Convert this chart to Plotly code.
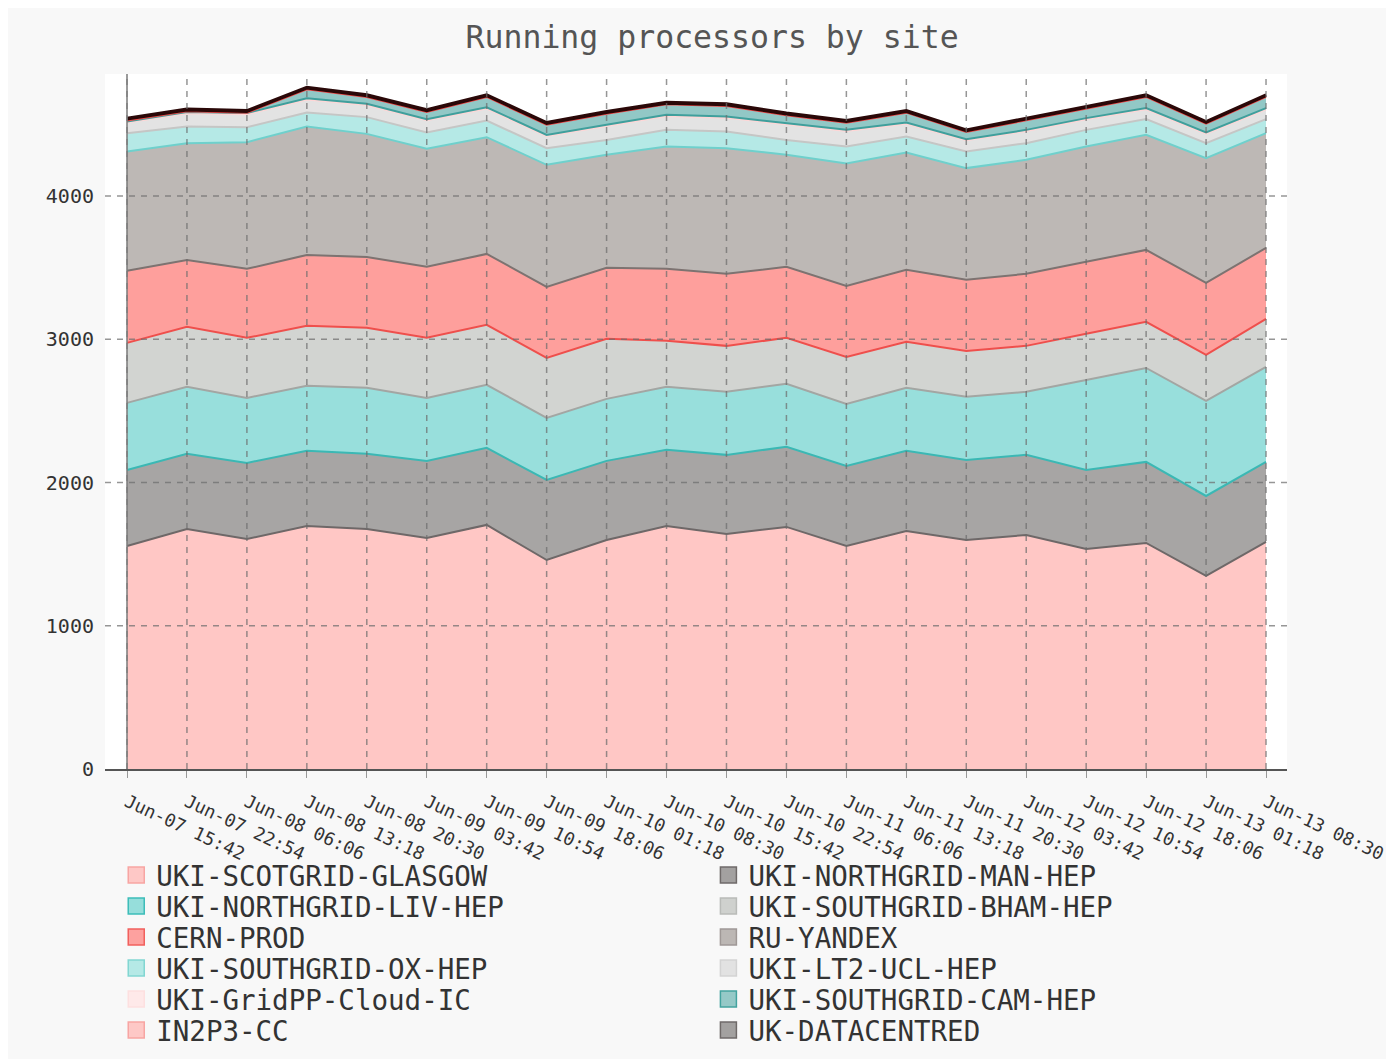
import plotly.graph_objects as go

# ---------------- data ----------------
x_labels = ["Jun-07 15:42", "Jun-07 22:54", "Jun-08 06:06", "Jun-08 13:18", "Jun-08 20:30",
            "Jun-09 03:42", "Jun-09 10:54", "Jun-09 18:06", "Jun-10 01:18", "Jun-10 08:30",
            "Jun-10 15:42", "Jun-10 22:54", "Jun-11 06:06", "Jun-11 13:18", "Jun-11 20:30",
            "Jun-12 03:42", "Jun-12 10:54", "Jun-12 18:06", "Jun-13 01:18", "Jun-13 08:30"]

glasgow = [1557, 1676, 1606, 1697, 1676, 1613, 1704, 1459, 1599, 1697, 1641, 1690, 1557, 1662, 1599, 1634, 1536, 1578, 1348, 1585]
man_hep = [531, 524, 531, 524, 524, 538, 538, 559, 552, 531, 552, 559, 559, 559, 559, 559, 552, 566, 558, 559]
liv_hep = [468, 468, 454, 454, 461, 440, 440, 433, 433, 440, 440, 440, 433, 440, 440, 440, 628, 656, 664, 663]
bham_hep = [419, 419, 419, 419, 419, 419, 419, 419, 419, 321, 321, 321, 328, 321, 321, 321, 322, 322, 321, 335]
cern_prod = [503, 467, 482, 495, 495, 496, 495, 496, 496, 503, 503, 496, 496, 503, 496, 503, 503, 502, 503, 496]
ru_yandex = [833, 815, 884, 896, 859, 824, 815, 852, 789, 854, 877, 782, 855, 819, 780, 796, 805, 803, 871, 801]
ox_hep = [128, 116, 105, 98, 117, 114, 116, 116, 104, 116, 117, 104, 118, 112, 116, 116, 116, 110, 104, 98]
ucl_hep = [74, 93, 90, 91, 85, 85, 84, 85, 97, 96, 96, 109, 108, 88, 78, 85, 74, 68, 67, 68]
cloud_ic = [7, 8, 8, 9, 8, 8, 9, 8, 8, 9, 8, 8, 8, 9, 8, 8, 8, 9, 8, 9]
cam_hep = [8, 6, 3, 62, 48, 50, 72, 71, 78, 73, 74, 55, 50, 69, 50, 67, 71, 78, 61, 78]
in2p3_cc = [6, 5, 5, 5, 5, 5, 5, 5, 5, 5, 5, 5, 5, 5, 5, 5, 5, 5, 5, 5]
datacentred = [10, 10, 10, 10, 10, 10, 10, 10, 10, 10, 10, 10, 10, 10, 10, 10, 10, 10, 10, 10]

names = ["UKI-SCOTGRID-GLASGOW", "UKI-NORTHGRID-MAN-HEP", "UKI-NORTHGRID-LIV-HEP",
         "UKI-SOUTHGRID-BHAM-HEP", "CERN-PROD", "RU-YANDEX", "UKI-SOUTHGRID-OX-HEP",
         "UKI-LT2-UCL-HEP", "UKI-GridPP-Cloud-IC", "UKI-SOUTHGRID-CAM-HEP", "IN2P3-CC",
         "UK-DATACENTRED"]
values = [glasgow, man_hep, liv_hep, bham_hep, cern_prod, ru_yandex, ox_hep, ucl_hep,
          cloud_ic, cam_hep, in2p3_cc, datacentred]

y_ticks = [0, 1000, 2000, 3000, 4000]

# ---------------- styles ----------------
area_fill = ["#ffc7c5", "#a7a5a4", "#98dfdc", "#d2d4d1", "#fe9f9c", "#bdb8b5",
             "#b5e9e6", "#e3e3e3", "#fde8e8", "#92c8c6", "#fec8c6", "#a3a1a0"]
stroke = ["#f7a5a3", "#6e6868", "#3bb8b4", "#a3a6a3", "#ef4f4c", "#7d7371",
          "#6fd0cc", "#c5c6c5", "#ffd6d6", "#3f9f9c", "#f04848", "#2a0808"]
legend_fill = ["#fec8c6", "#a3a1a0", "#96dedb", "#cfd1ce", "#fda19f", "#bcb7b4",
               "#b5e9e6", "#e2e2e2", "#fee9e9", "#95c9c7", "#fec8c6", "#a3a1a0"]
legend_line = ["#f7a5a3", "#6f6a69", "#3dbdb9", "#b9bbb8", "#f1605d", "#9f9896",
               "#82d6d2", "#d3d3d3", "#fde0e0", "#43a39f", "#f7a5a3", "#6f6a69"]

FONT = "DejaVu Sans Mono"

# figure geometry (page has an 8px body margin)
W, H = 1386, 1051
ML, MR, MT, MB = 97, 107, 66, 290
PLOT_H = H - MT - MB

fig = go.Figure()
n = len(names)
for i in range(n):
    # the boundary on top of each band shows the stroke of the band above it
    line_col = stroke[i + 1] if i + 1 < n else stroke[i]
    fig.add_trace(go.Scatter(
        x=x_labels, y=values[i], name=names[i], stackgroup="one", mode="lines",
        line=dict(color=line_col, width=3 if i == n - 1 else 2),
        fillcolor=area_fill[i], showlegend=False,
    ))

# legend entries (square swatches): one small legend per entry, two columns, row-major
legend_layout = {}
for i in range(n):
    key = "legend" if i == 0 else f"legend{i + 1}"
    fig.add_trace(go.Scatter(
        x=[None], y=[None], mode="markers", name=names[i],
        marker=dict(symbol="square", size=16, color=legend_fill[i],
                    line=dict(color=legend_line[i], width=1.5)),
        legend=key, hoverinfo="skip",
    ))
    row, col = divmod(i, 2)
    row_px = 106 + 31 * row          # distance below the plot bottom
    legend_layout[key] = dict(
        x=0.0095 if col == 0 else 0.5105, xanchor="left",
        y=-row_px / PLOT_H, yanchor="middle",
        bgcolor="rgba(0,0,0,0)", font=dict(family=FONT, size=27.5, color="#333"),
        itemsizing="trace", traceorder="normal",
    )

shapes = []
grid_style = dict(color="rgba(110,110,110,0.72)", width=1.5, dash="6px,6px")
for lab in x_labels:
    shapes.append(dict(type="line", xref="x", yref="paper", x0=lab, x1=lab, y0=0, y1=1,
                       line=grid_style, layer="above"))
for t in y_ticks[1:]:
    shapes.append(dict(type="line", xref="paper", yref="y", x0=0, x1=1, y0=t, y1=t,
                       line=grid_style, layer="above"))
# y axis line of the chart at the first category
shapes.append(dict(type="line", xref="x", yref="paper", x0=x_labels[0], x1=x_labels[0],
                   y0=0, y1=1, line=dict(color="#7a7a7a", width=1.5), layer="above"))

fig.update_layout(
    width=W, height=H,
    margin=dict(l=ML, r=MR, t=MT, b=MB, autoexpand=False),
    paper_bgcolor="#f8f8f8", plot_bgcolor="#ffffff",
    font=dict(family=FONT, color="#333"),
    title=dict(text="Running processors by site", x=0.508, xref="container",
               y=1 - 29 / H, yref="container", xanchor="center", yanchor="middle",
               font=dict(family=FONT, size=31.5, color="#555")),
    xaxis=dict(type="category", range=[-0.367, 19.35], tickangle=25,
               tickfont=dict(family=FONT, size=18, color="#333"),
               showgrid=False, ticks="outside", ticklen=7, tickcolor="#999",
               showline=True, linecolor="#555", linewidth=1.5,
               ticklabelstandoff=7, fixedrange=True),
    yaxis=dict(range=[0, 4852], tickvals=y_ticks, ticktext=[str(t) for t in y_ticks],
               tickfont=dict(family=FONT, size=20, color="#333"),
               showgrid=False, zeroline=False, ticks="", ticklabelstandoff=10,
               showline=False),
    shapes=shapes,
    hovermode=False,
    **legend_layout,
)

fig.write_html("out.html")
